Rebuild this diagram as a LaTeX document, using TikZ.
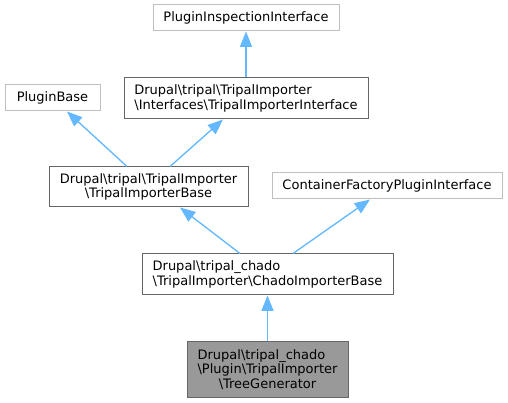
\documentclass[tikz,border=0pt]{standalone}
\usepackage{fontspec}
\setmainfont{DejaVu Sans}
\usepackage{calc}
\usetikzlibrary{calc,arrows.meta}

\definecolor{edgeblue}{HTML}{63B8FF}
\definecolor{boxgray}{HTML}{BFBFBF}
\definecolor{boxdark}{HTML}{666666}
\definecolor{nodefill}{HTML}{999999}
\newcommand{\leftpart}[2]{\makebox[\widthof{#2}][l]{#1}}

\begin{document}
\begin{tikzpicture}[x=0.75pt,y=-0.75pt]

\tikzstyle{extbox} = [rectangle, draw=boxgray, fill=white, inner sep=0, line width=0.75pt, font=\fontsize{9.75}{11}\selectfont, align=center, text=black]
\tikzstyle{clsbox} = [extbox, draw=boxdark]%
\tikzstyle{curbox} = [clsbox, fill=nodefill]%
\tikzstyle{inharc} = [-{Triangle[length=11.5pt,width=9pt]}, draw=edgeblue, fill=edgeblue, line width=1pt]%

\useasboundingbox (0,0) rectangle (508,403);

\node[extbox, minimum width=139.5pt, minimum height=19.5pt] (inspect) at (246,18) {PluginInspectionInterface};
\node[extbox, minimum width=71.25pt, minimum height=19.5pt] (pluginbase) at (52.5,98) {PluginBase};
\node[clsbox, align=left, minimum width=183pt, minimum height=30.75pt] (iface) at (246,98.5) {Drupal\textbackslash tripal\textbackslash TripalImporter\\\textbackslash Interfaces\textbackslash TripalImporterInterface};
\node[clsbox, minimum width=149.25pt, minimum height=30pt] (tibase) at (148.5,187) {Drupal\textbackslash tripal\textbackslash TripalImporter\\\textbackslash TripalImporterBase};
\node[extbox, minimum width=172.5pt, minimum height=19.5pt] (container) at (387,186) {ContainerFactoryPluginInterface};
\node[clsbox, align=left, minimum width=188.25pt, minimum height=30.75pt] (chado) at (267.5,274.5) {Drupal\textbackslash tripal\_chado\\\textbackslash TripalImporter\textbackslash ChadoImporterBase};
\node[curbox, minimum width=120.75pt, minimum height=41.25pt] (treegen) at (267.5,369.5) {\leftpart{Drupal\textbackslash tripal\_chado}{\textbackslash Plugin\textbackslash TripalImporter}\\\textbackslash Plugin\textbackslash TripalImporter\\\textbackslash TreeGenerator};

\draw[inharc] (iface) -- (inspect);
\draw[inharc] ($(tibase.north)+(-21.5,0)$) -- ($(pluginbase.south)+(14.5,0)$);
\draw[inharc] ($(tibase.north)+(21.5,0)$) -- ($(iface.south)+(-23,0)$);
\draw[inharc] ($(chado.north)+(-27.5,0)$) -- ($(tibase.south)+(31.5,0)$);
\draw[inharc] ($(chado.north)+(25.5,0)$) -- ($(container.south)+(-17,0)$);
\draw[inharc] (treegen) -- (chado);

\end{tikzpicture}
\end{document}
